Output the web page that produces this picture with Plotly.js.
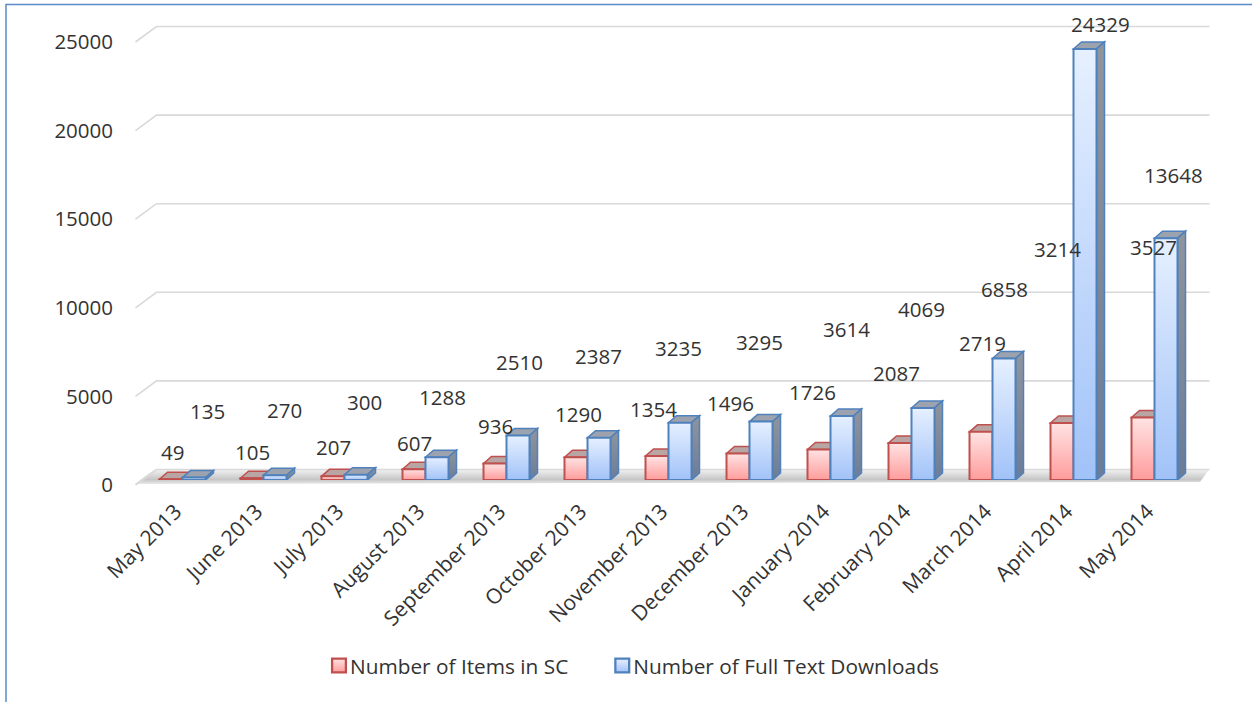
<!DOCTYPE html>
<html>
<head>
<meta charset="utf-8">
<script src="https://cdn.plot.ly/plotly-3.0.1.min.js"></script>
<style>
html,body{margin:0;padding:0;background:#ffffff;}
#chart{width:1252px;height:702px;}
</style>
</head>
<body>
<div id="chart"></div>
<script>
// ---------------- data ----------------
const months = ['May 2013','June 2013','July 2013','August 2013','September 2013','October 2013',
  'November 2013','December 2013','January 2014','February 2014','March 2014','April 2014','May 2014'];
const itemsInSC = [49,105,207,607,936,1290,1354,1496,1726,2087,2719,3214,3527];
const fullTextDownloads = [135,270,300,1288,2510,2387,3235,3295,3614,4069,6858,24329,13648];
const yTickVals = [0,5000,10000,15000,20000,25000];
const seriesNames = ['Number of Items in SC','Number of Full Text Downloads'];

// data-label nudges (px) reproducing the reference's label placement
const itemsLabelDy = [27,26,29,26,37,43,47,50,57,70,89,174,171];
const itemsLabelDx = [1,0,0,0,0,2,-4,-8,-7,-4,1,-5,10];
const downloadsLabelDy = [67,65,73,60,74,82,75,80,87,99,69,25,63];
const downloadsLabelDx = [13,9,8,5,1,-1,-2,-2,4,-2,0,15,7];

// ---------------- layout geometry ----------------
const W = 1252, H = 702;
const M = {l:142, r:57, t:37, b:222};
const plotW = W - M.l - M.r, plotH = H - M.t - M.b;
const yMax = 25000;
const bargap = 0.432;
const bw = (1 - bargap) / 2;              // width of one bar in x units
const pxPerX = plotW / months.length;
const bwPx = bw * pxPerX;
const depthX = 8, depthYpx = 7;
const depthY = depthYpx * yMax / plotH;   // depth in data units

const xIdx = months.map((m, i) => i);

const redLine = '#c0504d', blueLine = '#4f81bd';
const FONT = 'Open Sans, Liberation Sans, sans-serif';
const TXT = '#333333';

const traces = [
  {type:'bar', name:seriesNames[0], x:xIdx, y:itemsInSC,
   marker:{color:'rgb(255,190,190)', line:{color:redLine, width:2}}},
  {type:'bar', name:seriesNames[1], x:xIdx, y:fullTextDownloads,
   marker:{color:'rgb(196,218,252)', line:{color:blueLine, width:2}}}
];

const shapes = [];
// chart border
shapes.push({type:'rect', xref:'paper', yref:'paper', layer:'below',
  x0:(6 - M.l)/plotW, x1:2, y0:(plotH + M.t - 4.5)/plotH, y1:-3,
  line:{color:'#5b8cc8', width:1.5}, fillcolor:'rgba(0,0,0,0)'});
// floor (paper-referenced so it is not clipped to the plot area)
shapes.push({type:'path', xref:'paper', yref:'paper', layer:'below',
  xsizemode:'pixel', ysizemode:'pixel', xanchor:0, yanchor:0,
  path:'M-7,-4 L13,11 L1067.5,11 L1058,-2 Z',
  fillcolor:'rgb(201,201,202)', line:{width:0}});
// back gridlines
yTickVals.forEach(v => {
  shapes.push({type:'path', xref:'paper', yref:'paper', layer:'below',
    xsizemode:'pixel', ysizemode:'pixel', xanchor:0, yanchor:v / yMax,
    path:'M-6.5,-5 L14.5,10.5 L1067.5,10.5',
    line:{color:'#d9d9d9', width:1.6}});
});
// 3-D faces: red series first, then blue so the blue faces sit in front
function faces(vals, offset, topFill, sideFill, lineColor) {
  vals.forEach((v, i) => {
    const left = i + offset;
    shapes.push({type:'path', xref:'x', yref:'y', layer:'below',
      xsizemode:'pixel', xanchor:left,
      path:`M0,${v} L${bwPx},${v} L${bwPx+depthX},${v+depthY} L${depthX},${v+depthY} Z`,
      fillcolor:topFill, line:{color:lineColor, width:1.5}});
    shapes.push({type:'path', xref:'x', yref:'y', layer:'below',
      xsizemode:'pixel', xanchor:left + bw,
      path:`M0,0 L${depthX},${depthY} L${depthX},${v+depthY} L0,${v} Z`,
      fillcolor:sideFill, line:{color:lineColor, width:1.5}});
  });
}
faces(itemsInSC, -bw, 'rgb(186,165,165)', 'rgb(160,140,140)', redLine);
faces(fullTextDownloads, 0, 'rgb(156,163,174)', 'rgb(128,138,155)', blueLine);

// data labels
const annotations = [];
itemsInSC.forEach((v, i) => annotations.push({
  x:i - bw/2, y:v, xref:'x', yref:'y', text:String(v), showarrow:false,
  xanchor:'center', yanchor:'middle', xshift:itemsLabelDx[i], yshift:itemsLabelDy[i],
  font:{family:FONT, size:20.5, color:TXT}}));
fullTextDownloads.forEach((v, i) => annotations.push({
  x:i + bw/2, y:v, xref:'x', yref:'y', text:String(v), showarrow:false,
  xanchor:'center', yanchor:'middle', xshift:downloadsLabelDx[i], yshift:downloadsLabelDy[i],
  font:{family:FONT, size:20.5, color:TXT}}));

const layout = {
  width:W, height:H, margin:M,
  paper_bgcolor:'#ffffff', plot_bgcolor:'rgba(0,0,0,0)',
  barmode:'group', bargap:bargap, bargroupgap:0,
  showlegend:true,
  legend:{orientation:'h', x:(310 - M.l)/plotW, xanchor:'left',
          y:(plotH + M.t - 666)/plotH, yanchor:'middle',
          font:{family:FONT, size:20.8, color:TXT},
          bgcolor:'rgba(0,0,0,0)'},
  xaxis:{type:'linear', range:[-0.5, months.length - 0.5], tickvals:xIdx, ticktext:months,
         tickangle:-45, showgrid:false, zeroline:false, showline:false, ticks:'',
         ticklabelstandoff:14, ticklabelshift:-7,
         tickfont:{family:FONT, size:21, color:TXT}},
  yaxis:{range:[0, yMax], tickvals:yTickVals, ticktext:yTickVals.map(String),
         showgrid:false, zeroline:false, showline:false, ticks:'',
         ticklabelstandoff:28, ticklabelshift:5,
         tickfont:{family:FONT, size:20.5, color:TXT}},
  shapes:shapes, annotations:annotations,
  hovermode:false
};

Plotly.newPlot('chart', traces, layout, {staticPlot:true, displayModeBar:false}).then(gd => {
  const NS = 'http://www.w3.org/2000/svg';
  const defs = gd.querySelector('.main-svg defs');
  function grad(id, stops) {
    const g = document.createElementNS(NS, 'linearGradient');
    g.setAttribute('id', id);
    g.setAttribute('x1', '0'); g.setAttribute('y1', '0');
    g.setAttribute('x2', '0'); g.setAttribute('y2', '1');
    stops.forEach(([o, c]) => {
      const s = document.createElementNS(NS, 'stop');
      s.setAttribute('offset', o); s.setAttribute('stop-color', c);
      g.appendChild(s);
    });
    defs.appendChild(g);
  }
  grad('gRed', [['0', '#ffe3e3'], ['1', '#ff9c9c']]);
  grad('gBlue', [['0', '#e6f0ff'], ['1', '#a1c2f8']]);
  grad('gBlueSide', [['0', '#90959d'], ['1', '#6b7c98']]);
  grad('gRedSide', [['0', '#a89494'], ['1', '#8f7272']]);
  grad('gFloor', [['0', '#f4f4f4'], ['0.7', '#c6c6c6'], ['1', '#e8e8e8']]);

  const map = {
    'rgb(255,190,190)': 'url(#gRed)',
    'rgb(196,218,252)': 'url(#gBlue)',
    'rgb(128,138,155)': 'url(#gBlueSide)',
    'rgb(160,140,140)': 'url(#gRedSide)',
    'rgb(201,201,202)': 'url(#gFloor)'
  };
  gd.querySelectorAll('path').forEach(p => {
    const f = (p.style.fill || '').replace(/\s+/g, '');
    if (map[f]) p.style.fill = map[f];
  });

  // legend: symbol close to its text, second entry further right (as in the reference)
  gd.querySelectorAll('.legend [clip-path]').forEach(el => el.removeAttribute('clip-path'));
  const legendRoot = gd.querySelector('.legend');
  if (legendRoot) legendRoot.removeAttribute('clip-path');
  const items = gd.querySelectorAll('.legend .traces');
  items.forEach((it, k) => {
    const pts = it.querySelector('.legendpoints');
    if (pts) pts.setAttribute('transform', 'translate(6,0) scale(1.15)');
    if (k === 1) {
      const tr = it.getAttribute('transform') || '';
      const m = tr.match(/translate\(\s*([-\d.]+)[ ,]+([-\d.]+)\s*\)/);
      if (m) it.setAttribute('transform', `translate(${parseFloat(m[1]) + 20},${m[2]})`);
    }
  });
});
</script>
</body>
</html>
